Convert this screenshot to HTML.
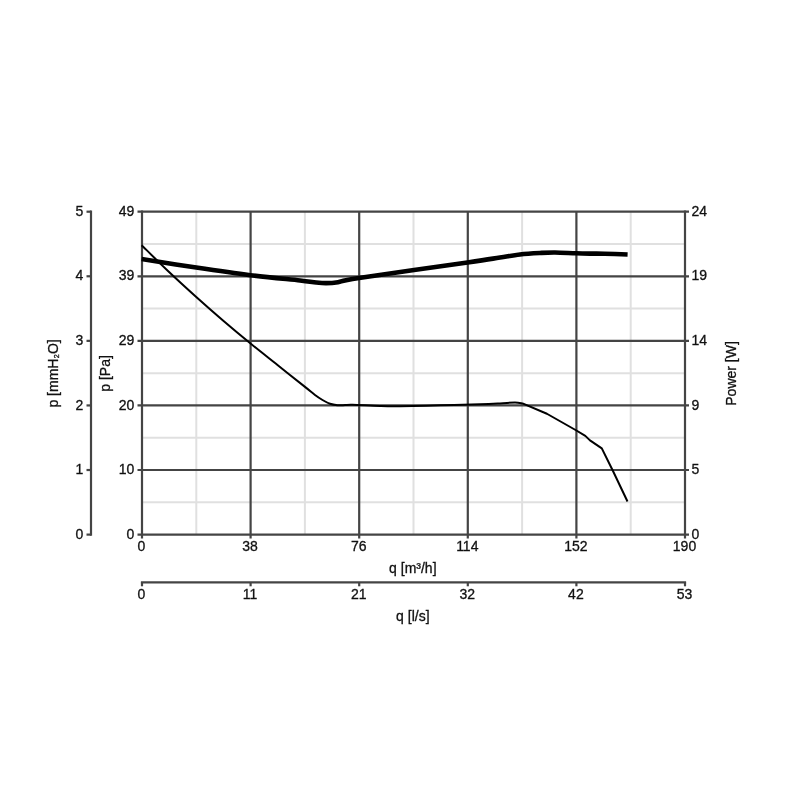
<!DOCTYPE html>
<html lang="en"><head><meta charset="utf-8"><title>Fan curve</title>
<style>html,body{margin:0;padding:0;background:#fff}svg{display:block}text{font-family:"Liberation Sans",Arial,Helvetica,sans-serif;font-size:14px;fill:#111;stroke:#111;stroke-width:0.3px}</style></head><body>
<svg width="800" height="800" viewBox="0 0 800 800">
<rect width="800" height="800" fill="#fff"/>
<g stroke="#e0e0e0" stroke-width="2" fill="none">
<line x1="196.30" y1="211.70" x2="196.30" y2="534.60"/>
<line x1="142.00" y1="243.99" x2="685.00" y2="243.99"/>
<line x1="304.90" y1="211.70" x2="304.90" y2="534.60"/>
<line x1="142.00" y1="308.57" x2="685.00" y2="308.57"/>
<line x1="413.50" y1="211.70" x2="413.50" y2="534.60"/>
<line x1="142.00" y1="373.15" x2="685.00" y2="373.15"/>
<line x1="522.10" y1="211.70" x2="522.10" y2="534.60"/>
<line x1="142.00" y1="437.73" x2="685.00" y2="437.73"/>
<line x1="630.70" y1="211.70" x2="630.70" y2="534.60"/>
<line x1="142.00" y1="502.31" x2="685.00" y2="502.31"/>
</g>
<g stroke="#444" stroke-width="2.2" fill="none" stroke-linecap="butt">
<line x1="142.00" y1="210.60" x2="142.00" y2="538.60"/>
<line x1="137.50" y1="211.70" x2="689.00" y2="211.70"/>
<line x1="250.60" y1="211.70" x2="250.60" y2="538.60"/>
<line x1="137.50" y1="276.28" x2="689.00" y2="276.28"/>
<line x1="359.20" y1="211.70" x2="359.20" y2="538.60"/>
<line x1="137.50" y1="340.86" x2="689.00" y2="340.86"/>
<line x1="467.80" y1="211.70" x2="467.80" y2="538.60"/>
<line x1="137.50" y1="405.44" x2="689.00" y2="405.44"/>
<line x1="576.40" y1="211.70" x2="576.40" y2="538.60"/>
<line x1="137.50" y1="470.02" x2="689.00" y2="470.02"/>
<line x1="685.00" y1="210.60" x2="685.00" y2="538.60"/>
<line x1="137.50" y1="534.60" x2="689.00" y2="534.60"/>
<line x1="91.00" y1="210.60" x2="91.00" y2="535.70"/>
<line x1="86.50" y1="211.70" x2="91.00" y2="211.70"/>
<line x1="86.50" y1="276.28" x2="91.00" y2="276.28"/>
<line x1="86.50" y1="340.86" x2="91.00" y2="340.86"/>
<line x1="86.50" y1="405.44" x2="91.00" y2="405.44"/>
<line x1="86.50" y1="470.02" x2="91.00" y2="470.02"/>
<line x1="86.50" y1="534.60" x2="91.00" y2="534.60"/>
<line x1="140.90" y1="582.30" x2="686.10" y2="582.30"/>
<line x1="142.00" y1="582.30" x2="142.00" y2="586.30"/>
<line x1="250.60" y1="582.30" x2="250.60" y2="586.30"/>
<line x1="359.20" y1="582.30" x2="359.20" y2="586.30"/>
<line x1="467.80" y1="582.30" x2="467.80" y2="586.30"/>
<line x1="576.40" y1="582.30" x2="576.40" y2="586.30"/>
<line x1="685.00" y1="582.30" x2="685.00" y2="586.30"/>
</g>
<path d="M141.60 245.20 C146.00 249.50 158.89 262.37 168.00 271.00 C177.11 279.63 187.08 288.75 196.25 297.00 C205.42 305.25 214.00 312.78 223.00 320.50 C232.00 328.22 241.17 335.88 250.25 343.30 C259.33 350.72 268.38 357.73 277.50 365.00 C286.62 372.27 298.75 381.90 305.00 386.90 C311.25 391.90 312.08 392.82 315.00 395.00 C317.92 397.18 320.00 398.54 322.50 400.00 C325.00 401.46 327.50 402.88 330.00 403.75 C332.50 404.62 335.00 404.97 337.50 405.20 C340.00 405.43 342.50 405.18 345.00 405.10 C347.50 405.03 346.67 404.60 352.50 404.75 C358.33 404.90 372.08 405.76 380.00 406.00 C387.92 406.24 390.00 406.32 400.00 406.20 C410.00 406.08 426.67 405.62 440.00 405.30 C453.33 404.98 470.00 404.57 480.00 404.25 C490.00 403.93 494.17 403.69 500.00 403.40 C505.83 403.11 511.25 402.50 515.00 402.50 C518.75 402.50 521.25 403.25 522.50 403.40 L522.50 403.40 L546.90 413.75 L576.00 430.25 L585.30 435.90 L590.00 440.40 L601.80 448.40 L612.50 470.00 L627.50 501.50" fill="none" stroke="#000" stroke-width="2" stroke-linejoin="round"/>
<path d="M141.60 259.00 C150.71 260.43 178.14 264.90 196.25 267.60 C214.36 270.30 232.96 273.05 250.25 275.20 C267.54 277.35 289.38 279.33 300.00 280.50 C310.62 281.67 309.67 281.77 314.00 282.20 C318.33 282.63 322.00 283.10 326.00 283.10 C330.00 283.10 332.50 283.05 338.00 282.20 C343.50 281.35 337.42 281.28 359.00 278.00 C380.58 274.72 444.00 265.92 467.50 262.50 C491.00 259.08 491.25 258.83 500.00 257.50 C508.75 256.17 513.33 255.25 520.00 254.50 C526.67 253.75 534.17 253.33 540.00 253.00 C545.83 252.67 549.00 252.45 555.00 252.50 C561.00 252.55 570.17 253.12 576.00 253.30 C581.83 253.48 585.25 253.53 590.00 253.60 C594.75 253.67 598.23 253.55 604.50 253.70 C610.77 253.85 623.75 254.37 627.60 254.50" fill="none" stroke="#000" stroke-width="4.6" stroke-linejoin="round"/>
<text x="134.3" y="215.90" text-anchor="end">49</text>
<text x="83.4" y="215.90" text-anchor="end">5</text>
<text x="691.5" y="215.90" text-anchor="start">24</text>
<text x="134.3" y="280.48" text-anchor="end">39</text>
<text x="83.4" y="280.48" text-anchor="end">4</text>
<text x="691.5" y="280.48" text-anchor="start">19</text>
<text x="134.3" y="345.06" text-anchor="end">29</text>
<text x="83.4" y="345.06" text-anchor="end">3</text>
<text x="691.5" y="345.06" text-anchor="start">14</text>
<text x="134.3" y="409.64" text-anchor="end">20</text>
<text x="83.4" y="409.64" text-anchor="end">2</text>
<text x="691.5" y="409.64" text-anchor="start">9</text>
<text x="134.3" y="474.22" text-anchor="end">10</text>
<text x="83.4" y="474.22" text-anchor="end">1</text>
<text x="691.5" y="474.22" text-anchor="start">5</text>
<text x="134.3" y="538.80" text-anchor="end">0</text>
<text x="83.4" y="538.80" text-anchor="end">0</text>
<text x="691.5" y="538.80" text-anchor="start">0</text>
<text x="141.50" y="551.4" text-anchor="middle">0</text>
<text x="141.50" y="599.2" text-anchor="middle">0</text>
<text x="250.10" y="551.4" text-anchor="middle">38</text>
<text x="250.10" y="599.2" text-anchor="middle">11</text>
<text x="358.70" y="551.4" text-anchor="middle">76</text>
<text x="358.70" y="599.2" text-anchor="middle">21</text>
<text x="467.30" y="551.4" text-anchor="middle">114</text>
<text x="467.30" y="599.2" text-anchor="middle">32</text>
<text x="575.90" y="551.4" text-anchor="middle">152</text>
<text x="575.90" y="599.2" text-anchor="middle">42</text>
<text x="684.50" y="551.4" text-anchor="middle">190</text>
<text x="684.50" y="599.2" text-anchor="middle">53</text>
<text x="412.80" y="572.5" text-anchor="middle">q [m³/h]</text>
<text x="412.80" y="621.3" text-anchor="middle">q [l/s]</text>
<text transform="translate(58 373.45) rotate(-90)" text-anchor="middle">p [mmH<tspan font-size="11.5">₂</tspan>O]</text>
<text transform="translate(110.3 373.45) rotate(-90)" text-anchor="middle">p [Pa]</text>
<text transform="translate(736 373.45) rotate(-90)" text-anchor="middle">Power [W]</text>
</svg></body></html>
